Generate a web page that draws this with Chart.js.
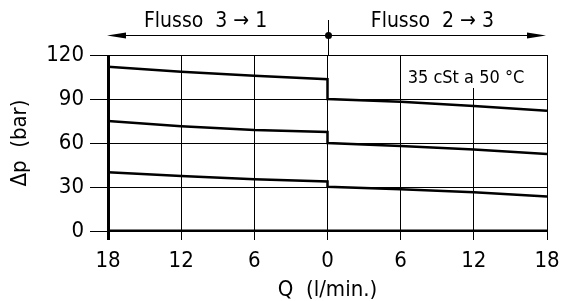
<!DOCTYPE html>
<html><head><meta charset="utf-8">
<script src="https://cdn.jsdelivr.net/npm/chart.js@4/dist/chart.umd.min.js"></script>
<style>html,body{margin:0;padding:0;background:#fff}#wrap{width:563px;height:301px}</style>
</head><body><div id="wrap"><canvas id="c" width="563" height="301"></canvas></div>
<script>
const FONT = '"Liberation Sans Narrow","DejaVu Sans Condensed","Liberation Sans",sans-serif';
const xTicks = [-18, -12, -6, 0, 6, 12, 18];
const yTicks = [0, 30, 60, 90, 120];
const qValues = [-18, -12, -6, 0, 0, 6, 12, 18];
const curveHigh = [112, 108.5, 105.8, 103.5, 90, 88.2, 85.2, 82];
const curveMid = [75, 71.5, 68.8, 67.5, 60, 58, 55.5, 52.5];
const curveLow = [40, 37.5, 35.3, 33.7, 30.2, 28.5, 26.4, 23.5];
const zeroQ = [-18, 18];
const zeroP = [0, 0];
const flowLeftLabel = 'Flusso  3 \u2192 1';
const flowRightLabel = 'Flusso  2 \u2192 3';
const noteLabel = '35 cSt a 50 \u00B0C';
const xTitle = 'Q  (l/min.)';
const yTitle = '\u0394p  (bar)';

const pts = (xs, ys) => xs.map((v, i) => ({x: v, y: ys[i]}));
const lineDs = (data, w) => ({data, borderColor: '#000', borderWidth: w, pointRadius: 0, tension: 0, fill: false});

const overlay = {
  id: 'overlay',
  beforeDatasetsDraw(chart) {
    const {ctx, chartArea: a, scales: {x}} = chart;
    ctx.save();
    const bx0 = x.getPixelForValue(6) + 1;
    const bx1 = x.getPixelForValue(18) - 1;
    ctx.fillStyle = '#fff';
    ctx.fillRect(bx0, a.top + 1, bx1 - bx0, 32);
    ctx.fillStyle = '#000';
    ctx.font = '18px ' + FONT;
    ctx.textAlign = 'left';
    ctx.textBaseline = 'alphabetic';
    ctx.fillText(noteLabel, bx0 + 6, a.top + 28);
    ctx.restore();
  },
  afterDraw(chart) {
    const {ctx, chartArea: a, scales: {x}} = chart;
    const cx = Math.round(x.getPixelForValue(0)) + 0.5;
    const ay = 35.5;
    const xl = x.getPixelForValue(-18) - 1;
    const xr = x.getPixelForValue(18) - 1;
    ctx.save();
    ctx.strokeStyle = '#000';
    ctx.fillStyle = '#000';
    ctx.lineWidth = 1;
    ctx.beginPath();
    ctx.moveTo(cx, 20); ctx.lineTo(cx, a.top);
    ctx.moveTo(xl + 10, ay); ctx.lineTo(xr - 10, ay);
    ctx.stroke();
    ctx.beginPath();
    ctx.moveTo(xl, ay); ctx.lineTo(xl + 19, ay - 3); ctx.lineTo(xl + 19, ay + 3); ctx.closePath();
    ctx.moveTo(xr, ay); ctx.lineTo(xr - 19, ay - 3); ctx.lineTo(xr - 19, ay + 3); ctx.closePath();
    ctx.fill();
    ctx.beginPath();
    ctx.arc(cx, ay, 3.5, 0, Math.PI * 2);
    ctx.fill();
    ctx.font = '21px ' + FONT;
    ctx.textAlign = 'center';
    ctx.textBaseline = 'alphabetic';
    ctx.fillText(flowLeftLabel, x.getPixelForValue(-10), 27);
    ctx.fillText(flowRightLabel, x.getPixelForValue(8.6), 27);
    ctx.restore();
  }
};

new Chart(document.getElementById('c'), {
  type: 'line',
  data: {
    datasets: [
      lineDs(pts(qValues, curveHigh), 2.5),
      lineDs(pts(qValues, curveMid), 2.5),
      lineDs(pts(qValues, curveLow), 2.5),
      lineDs(pts(zeroQ, zeroP), 3)
    ]
  },
  options: {
    responsive: false,
    animation: false,
    devicePixelRatio: 1,
    layout: {padding: {top: 55, right: 16, bottom: 0, left: 0}},
    plugins: {legend: {display: false}, tooltip: {enabled: false}},
    scales: {
      x: {
        type: 'linear', min: -18, max: 18,
        afterBuildTicks: s => { s.ticks = xTicks.map(v => ({value: v})); },
        afterFit: s => { s.height = 70; s.paddingLeft = 0; s.paddingRight = 0; },
        border: {display: false},
        grid: {color: '#000', lineWidth: c => (c.tick && c.tick.value === -18 ? 3 : 1), tickLength: 9},
        ticks: {color: '#000', font: {family: FONT, size: 22}, padding: 8, maxRotation: 0,
          callback: v => String(Math.abs(v))},
        title: {display: true, text: xTitle, color: '#000', font: {family: FONT, size: 22}, padding: {top: 0, bottom: -2}}
      },
      y: {
        type: 'linear', min: 0, max: 120,
        afterBuildTicks: s => { s.ticks = yTicks.map(v => ({value: v})); },
        afterFit: s => { s.width = 108; },
        border: {display: false},
        grid: {color: '#000', lineWidth: 1, tickLength: 18},
        ticks: {color: '#000', font: {family: FONT, size: 22}, padding: 6},
        title: {display: true, text: yTitle, color: '#000', font: {family: FONT, size: 22}, padding: {top: 7, bottom: 0}}
      }
    }
  },
  plugins: [overlay]
});
</script></body></html>
